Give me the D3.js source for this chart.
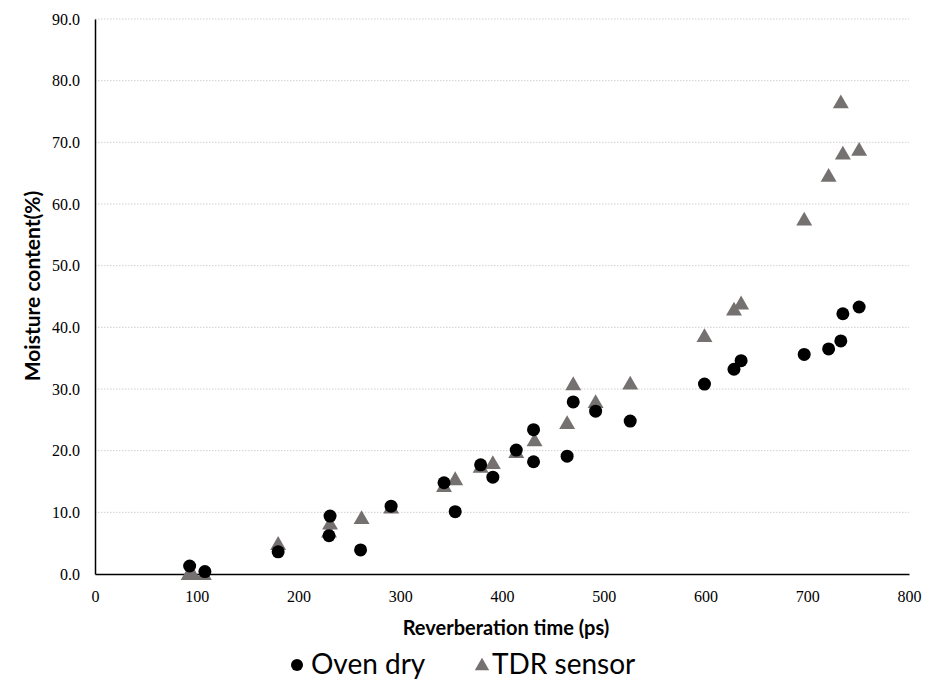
<!DOCTYPE html>
<html>
<head>
<meta charset="utf-8">
<script src="https://cdn.jsdelivr.net/npm/d3@7"></script>
<style>
  body { margin: 0; background: #fff; }
  svg text { fill: #000; }
</style>
</head>
<body>
<div id="chart"></div>
<script>
// Oven dry series
const ovenTime = [93, 108, 180, 230, 231, 261, 291, 343, 354, 379, 391, 414, 431, 431, 464, 470, 492, 526, 599, 628, 635, 697, 721, 733, 735, 751];
const ovenMoisture = [1.3, 0.4, 3.6, 6.2, 9.4, 3.9, 11.0, 14.8, 10.1, 17.7, 15.7, 20.1, 23.4, 18.2, 19.1, 27.9, 26.4, 24.8, 30.8, 33.2, 34.6, 35.6, 36.5, 37.8, 42.2, 43.3];

// TDR sensor series
const tdrTime = [92, 96, 107, 180, 230, 231, 262, 291, 343, 354, 379, 391, 414, 432, 464, 470, 492, 526, 599, 628, 635, 697, 721, 733, 735, 751];
const tdrMoisture = [0, 0, 0, 4.9, 6.9, 8.2, 9.1, 10.8, 14.3, 15.4, 17.4, 18.0, 19.8, 21.7, 24.5, 30.8, 27.9, 30.9, 38.6, 42.9, 43.9, 57.5, 64.6, 76.5, 68.2, 68.8];

const xTicks = [0, 100, 200, 300, 400, 500, 600, 700, 800];
const yTicks = [0, 10, 20, 30, 40, 50, 60, 70, 80, 90];
const seriesNames = ['Oven dry', 'TDR sensor'];

const width = 928;
const height = 683;
const margin = { left: 95, right: 19, top: 19, bottom: 109 };
const titleFont = 'Lato, "Liberation Sans", sans-serif';
const tickFont = '"Liberation Serif", "DejaVu Serif", serif';

const svg = d3.select('#chart')
    .append('svg')
    .attr('width', width)
    .attr('height', height);

const xScale = d3.scaleLinear()
    .domain([0, 800])
    .range([margin.left, width - margin.right]);

const yScale = d3.scaleLinear()
    .domain([0, 90])
    .range([height - margin.bottom, margin.top]);

// gridlines
svg.append('g')
    .selectAll('line')
    .data(yTicks.filter(d => d > 0))
    .enter()
    .append('line')
    .attr('x1', xScale(0))
    .attr('x2', xScale(800))
    .attr('y1', d => yScale(d))
    .attr('y2', d => yScale(d))
    .attr('stroke', '#d0d0d0')
    .attr('stroke-width', 1)
    .attr('stroke-dasharray', '1.5,1.5');

const xAxis = d3.axisBottom(xScale)
    .tickValues(xTicks)
    .tickSize(0)
    .tickPadding(17)
    .tickFormat(d3.format('d'));

const xAxisGroup = svg.append('g')
    .attr('transform', `translate(0, ${yScale(0)})`)
    .call(xAxis);
xAxisGroup.select('.domain').attr('stroke', '#000').attr('stroke-width', 1.5);
xAxisGroup.selectAll('text')
    .style('font-family', tickFont)
    .style('font-size', '16px');

const yAxis = d3.axisLeft(yScale)
    .tickValues(yTicks)
    .tickSize(0)
    .tickPadding(15)
    .tickFormat(d3.format('.1f'));

const yAxisGroup = svg.append('g')
    .attr('transform', `translate(${xScale(0)}, 0)`)
    .call(yAxis);
yAxisGroup.select('.domain').attr('stroke', '#000').attr('stroke-width', 1.5);
yAxisGroup.selectAll('text')
    .style('font-family', tickFont)
    .style('font-size', '16px');

// axis titles
svg.append('text')
    .attr('x', (xScale(0) + xScale(800)) / 2 + 4)
    .attr('y', 635)
    .attr('text-anchor', 'middle')
    .style('font-family', titleFont)
    .style('font-weight', 'bold')
    .style('font-size', '20px')
    .text('Reverberation time (ps)');

svg.append('text')
    .attr('transform', 'translate(40, 286) rotate(-90)')
    .attr('text-anchor', 'middle')
    .style('font-family', titleFont)
    .style('font-weight', 'bold')
    .style('font-size', '21px')
    .text('Moisture content(%)');

// triangles first, circles drawn on top
const triangle = d3.symbol().type(d3.symbolTriangle).size(110);

svg.append('g')
    .selectAll('path')
    .data(tdrTime)
    .enter()
    .append('path')
    .attr('d', triangle)
    .attr('transform', (d, i) => `translate(${xScale(d)}, ${yScale(tdrMoisture[i]) + 1.5})`)
    .attr('fill', '#767171');

svg.append('g')
    .selectAll('circle')
    .data(ovenTime)
    .enter()
    .append('circle')
    .attr('cx', d => xScale(d))
    .attr('cy', (d, i) => yScale(ovenMoisture[i]))
    .attr('r', 6.5)
    .attr('fill', '#000');

// legend
const legend = svg.append('g');
legend.append('circle')
    .attr('cx', 297)
    .attr('cy', 665)
    .attr('r', 6)
    .attr('fill', '#000');
legend.append('text')
    .attr('x', 311)
    .attr('y', 674)
    .style('font-family', titleFont)
    .style('font-size', '28px')
    .text(seriesNames[0]);
legend.append('path')
    .attr('d', d3.symbol().type(d3.symbolTriangle).size(90))
    .attr('transform', 'translate(482, 666)')
    .attr('fill', '#767171');
legend.append('text')
    .attr('x', 492)
    .attr('y', 674)
    .style('font-family', titleFont)
    .style('font-size', '28px')
    .text(seriesNames[1]);
</script>
</body>
</html>
